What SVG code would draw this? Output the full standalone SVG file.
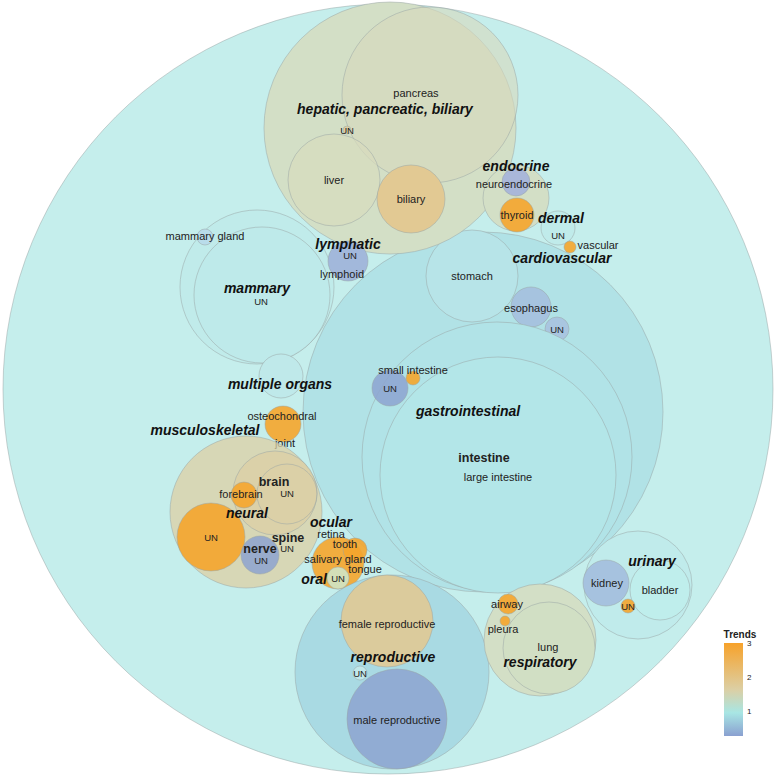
<svg xmlns="http://www.w3.org/2000/svg" width="776" height="777" viewBox="0 0 776 777">
<style>
circle{stroke:#9aa6a6;stroke-opacity:0.5;stroke-width:1}
text{font-family:"Liberation Sans",Arial,sans-serif;fill:#222;text-anchor:middle}
.l{font-size:11px}
.u{font-size:9.5px}
.g{font-size:14px;font-weight:bold;font-style:italic;fill:#111}
.b{font-size:12.5px;font-weight:bold;fill:#222}
.o{fill:#f5a52c;fill-opacity:0.9}
.t{fill:#dccfa4;fill-opacity:0.75}
.c{fill:#bdeaea;fill-opacity:0.7}
.bl{fill:#8da3d0;fill-opacity:0.85}
</style>
<defs><linearGradient id="gr" x1="0" y1="0" x2="0" y2="1"><stop offset="0" stop-color="#f7a22a"/><stop offset="0.5" stop-color="#dccfa4"/><stop offset="0.75" stop-color="#a8e6e4"/><stop offset="1" stop-color="#8aa0d0"/></linearGradient></defs>
<rect width="776" height="777" fill="#fff"/>
<g id="root"><circle cx="388" cy="389" r="385" fill="#c5eeec"/></g>
<g id="gi"><circle cx="483" cy="412" r="180" fill="#abdfe5" fill-opacity="0.8"/>
<circle cx="472" cy="276" r="46" fill="#b7e4e8"/>
<circle cx="531" cy="307" r="20" fill="#a6c3df"/><circle cx="557" cy="329" r="12" fill="#a9c6e0"/>
<circle cx="497" cy="457" r="135" fill="#b1e3e7"/><circle cx="498" cy="475" r="118" fill="#b3e6e8"/>
<circle cx="390" cy="388" r="18" class="bl"/><circle cx="413" cy="378" r="7" class="o"/>
<text class="l" x="472" y="280">stomach</text><text class="l" x="531" y="312">esophagus</text><text class="u" x="557" y="333">UN</text>
<text class="l" x="413" y="374">small intestine</text><text class="u" x="390" y="392">UN</text>
<text class="g" x="468" y="416">gastrointestinal</text><text class="b" x="484" y="462">intestine</text><text class="l" x="498" y="481">large intestine</text></g>
<g id="hepatic"><circle cx="390" cy="128" r="126" fill="#d3dfc6"/>
<circle cx="430" cy="95" r="88" fill="#d7d9bd" fill-opacity="0.6"/>
<circle cx="334" cy="180" r="46" fill="#d7dcbe" fill-opacity="0.7"/>
<circle cx="411" cy="199" r="34" fill="#e2c993"/>
<circle cx="347" cy="130" r="4" fill="#dccfa4"/>
<text class="l" x="416" y="97">pancreas</text><text class="g" x="385" y="114">hepatic, pancreatic, biliary</text>
<text class="u" x="347" y="134">UN</text><text class="l" x="334" y="184">liver</text><text class="l" x="411" y="203">biliary</text></g>
<g id="endocrine"><circle cx="516" cy="198" r="33" fill="#d3dfc6"/>
<circle cx="516" cy="182" r="14" fill="#a9b7d9"/><circle cx="517" cy="215" r="17" class="o"/>
<text class="g" x="516" y="171">endocrine</text><text class="l" x="514" y="188">neuroendocrine</text><text class="l" x="517" y="219">thyroid</text></g>
<g id="dermal"><circle cx="558" cy="228" r="17" class="c"/><text class="g" x="561" y="223">dermal</text><text class="u" x="558" y="239">UN</text></g>
<g id="cardio"><circle cx="570" cy="247" r="6" class="o"/><text class="l" x="598" y="249">vascular</text><text class="g" x="562" y="263">cardiovascular</text></g>
<g id="mammary"><circle cx="257" cy="287" r="77" class="c"/><circle cx="262" cy="295" r="68" class="c"/><circle cx="205" cy="237" r="8" fill="#b9dcea"/>
<text class="l" x="205" y="240">mammary gland</text><text class="g" x="257" y="293">mammary</text><text class="u" x="261" y="305">UN</text></g>
<g id="lymphatic"><circle cx="348" cy="261" r="20" fill="#a2b8db"/>
<text class="g" x="348" y="249">lymphatic</text><text class="u" x="350" y="259">UN</text><text class="l" x="342" y="278">lymphoid</text></g>
<g id="multiple"><circle cx="281" cy="376" r="22" fill="#bfe9ea"/><text class="g" x="280" y="389">multiple organs</text></g>
<g id="musculo"><circle cx="283" cy="424" r="18" class="o"/>
<text class="l" x="282" y="420">osteochondral</text><text class="g" x="205" y="435">musculoskeletal</text><text class="l" x="285" y="447">joint</text></g>
<g id="neural"><circle cx="246" cy="512" r="76" class="t"/>
<circle cx="275" cy="493" r="42" class="t"/><circle cx="287" cy="494" r="30" fill="#dccfa4" fill-opacity="0.4"/>
<circle cx="244" cy="495" r="13" class="o"/><circle cx="211" cy="537" r="34" class="o"/><circle cx="260" cy="555" r="19" class="bl"/>
<text class="b" x="274" y="486">brain</text><text class="l" x="241" y="498">forebrain</text><text class="u" x="287" y="497">UN</text>
<text class="g" x="247" y="518">neural</text><text class="u" x="211" y="541">UN</text>
<text class="b" x="288" y="542">spine</text><text class="u" x="287" y="552">UN</text><text class="b" x="260" y="553">nerve</text><text class="u" x="261" y="564">UN</text></g>
<g id="oral"><circle cx="338" cy="563" r="26" class="o"/><circle cx="355" cy="550" r="12" class="o"/><circle cx="338" cy="578" r="11" fill="#d3dfb8"/>
<text class="g" x="331" y="527">ocular</text><text class="l" x="331" y="538">retina</text><text class="l" x="345" y="548">tooth</text>
<text class="l" x="338" y="563">salivary gland</text><text class="l" x="365" y="573">tongue</text>
<text class="g" x="314" y="584">oral</text><text class="u" x="338" y="582">UN</text></g>
<g id="reproductive"><circle cx="392" cy="672" r="97" fill="#a9dae3"/>
<circle cx="387" cy="621" r="46" fill="#e0c993" fill-opacity="0.9"/><circle cx="397" cy="719" r="50" class="bl"/><circle cx="360" cy="673" r="7" fill="#c2e8ea"/>
<text class="l" x="387" y="628">female reproductive</text><text class="g" x="393" y="662">reproductive</text><text class="u" x="360" y="677">UN</text><text class="l" x="397" y="724">male reproductive</text></g>
<g id="respiratory"><circle cx="540" cy="640" r="56" fill="#d3dfc6"/><circle cx="549" cy="648" r="46" fill="#d1dfc4"/>
<circle cx="508" cy="604" r="10" class="o"/><circle cx="505" cy="621" r="5" class="o"/>
<text class="l" x="507" y="608">airway</text><text class="l" x="503" y="633">pleura</text><text class="l" x="548" y="651">lung</text><text class="g" x="540" y="667">respiratory</text></g>
<g id="urinary"><circle cx="638" cy="585" r="54" fill="#c0ebeb"/><circle cx="606" cy="583" r="23" fill="#a6c2df"/><circle cx="660" cy="590" r="30" fill="#bfeeec"/><circle cx="628" cy="606" r="7" class="o"/>
<text class="g" x="652" y="566">urinary</text><text class="l" x="607" y="587">kidney</text><text class="l" x="660" y="594">bladder</text><text class="u" x="628" y="610">UN</text></g>
<g id="legend"><text x="740" y="638" style="font-size:10px;font-weight:bold">Trends</text>
<rect x="724" y="643" width="19" height="93" fill="url(#gr)"/>
<text x="747" y="646" style="font-size:8px;text-anchor:start">3</text><text x="747" y="680" style="font-size:8px;text-anchor:start">2</text><text x="747" y="714" style="font-size:8px;text-anchor:start">1</text></g>
<g id="connectors"/>
</svg>
